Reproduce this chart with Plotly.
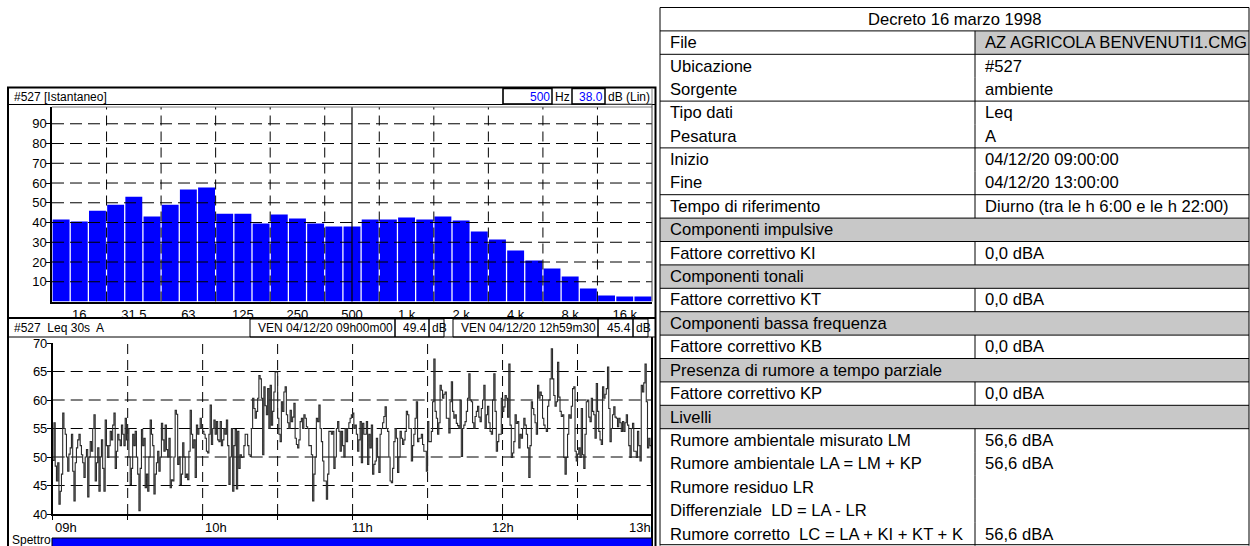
import plotly.graph_objects as go
import pandas as pd

W, H = 1250, 546

# ---------------- data ----------------
band_names = ["12.5", "16", "20", "25", "31.5", "40", "50", "63", "80", "100", "125",
              "160", "200", "250", "315", "400", "500", "630", "800", "1k", "1.25k",
              "1.6k", "2k", "2.5k", "3.15k", "4k", "5k", "6.3k", "8k", "10k",
              "12.5k", "16k", "20k"]
band_levels_db = [41.5, 40.5, 46.0, 49.0, 53.0, 43.0, 49.0, 56.7, 57.7, 44.5, 44.5,
                  39.5, 44.0, 42.0, 39.5, 38.0, 38.0, 41.5, 41.5, 42.5, 41.5,
                  43.0, 41.0, 35.4, 31.4, 25.8, 20.8, 16.7, 12.7, 6.6,
                  3.0, 2.5, 2.5]
spectrum_tick_bands = ["16", "31.5", "63", "125", "250", "500", "1k", "2k", "4k", "8k", "16k"]
spectrum_tick_text = ["16", "31.5", "63", "125", "250", "500", "1 k", "2 k", "4 k", "8 k", "16 k"]
spectrum_y_ticks = [10, 20, 30, 40, 50, 60, 70, 80, 90]
cursor_band = "500"

leq_start = "2020-12-04 09:00:00"
leq_0900 = [49.4, 56, 48.4, 45.8, 49, 41.7, 44, 47, 57.7, 55,
            54, 50, 47.5, 50.5, 51.6, 54, 47.5, 42.3, 49, 51.6,
            53, 54, 52, 50.4, 49, 46.4, 50, 51.3, 43, 50,
            52.7, 51, 55, 57.4, 45.8, 49, 51.6, 44, 50, 53,
            48, 44, 56.5, 52, 49.9, 52, 54.5, 53, 55.6, 57.7,
            48, 51, 54, 53, 52, 55.6, 54, 52, 56.8, 53,
            55, 50, 45.2, 48, 54, 52, 54.5, 50, 47, 40.6,
            48, 54.8, 52, 53.3, 44.6, 47, 44, 50, 56.5, 54,
            52, 43.5, 47, 49, 51, 47.5, 50, 55.9, 53, 51,
            55.6, 51.3, 50, 53.3, 44.6, 46, 45.8, 50, 58.2, 57.5,
            48.7, 50, 45.2, 47, 52.5, 50, 46.4, 47, 46, 51,
            58.2, 54, 51.6, 53, 46.4, 55.6, 54, 55, 56.8, 55]
leq_1000 = [54.5, 54, 53.3, 51, 50.7, 54, 59.1, 52.2, 55, 56.5,
            54, 56.2, 53, 52.7, 56.2, 52, 53, 55, 54, 56.5,
            52, 45.2, 50, 55, 44, 52, 54.8, 44.4, 54.5, 48,
            50.4, 49.9, 50, 52, 54, 54, 52, 50.4, 50.1, 55,
            60.3, 58.5, 56.8, 58, 60.3, 64.3, 63.7, 60.3, 50.4, 62.3,
            59, 57.4, 62, 55, 62.6, 55.6, 58, 61.4, 64.9, 64.9,
            56.8, 54, 52.7, 59.7, 58, 61.4, 62.3, 57.4, 56, 55,
            58.2, 56.2, 57, 59.4, 53.3, 52.2, 51.6, 53, 56.2, 56.8,
            55, 57.4, 56.8, 55.3, 55, 52, 52, 50.4, 42.3, 47,
            50, 56.8, 56.2, 59.1, 55, 52.7, 49.3, 45.8, 45.8, 42.6,
            47, 54.5, 54.5, 54, 54.5, 48, 50, 55, 56.2, 54.5,
            51, 54.5, 52, 50, 55, 52.7, 55, 56, 56.8, 57.4]
leq_1100 = [57.7, 55, 55.6, 54, 51, 53, 56.2, 49, 55.9, 54,
            54, 56.2, 48.7, 54, 51.6, 55.6, 47, 48.7, 49.3, 53.3,
            50, 47.3, 54, 55, 56, 57.1, 58.8, 55, 54.5, 50,
            45.8, 45.5, 48, 52.7, 55, 53.3, 47.3, 50, 54.5, 53.3,
            52.2, 53, 54.5, 58, 57.4, 55, 55, 49.3, 52, 54,
            56.8, 59.7, 52.7, 53.3, 53.3, 54, 52.2, 51, 51, 47.5,
            56.2, 52.7, 52.7, 54.5, 59.7, 67.2, 58, 56.8, 54, 56,
            62.6, 61.7, 60.3, 61, 61.4, 56.8, 56.8, 54.2, 59.7, 63.2,
            58, 56.8, 57.4, 55.9, 55.5, 55, 60, 50.1, 55, 55.6,
            56.2, 58, 60.3, 64.6, 60, 59.7, 56, 55, 57.1, 58,
            58.9, 57, 56.2, 58.5, 60, 62.6, 55, 57.4, 58.9, 56,
            54.5, 54, 60, 64.6, 58, 51, 52.7, 54, 54, 60.3]
leq_1200 = [58, 58.8, 60.8, 60.3, 57, 66.3, 55.6, 49.9, 50.7, 52.7,
            57.4, 55.9, 56.2, 51.6, 54, 53.3, 55, 56.8, 55.6, 54,
            51.6, 46.4, 52, 59.7, 58.5, 57.4, 56, 54, 62.6, 60.3,
            61.4, 60.8, 56.8, 55.6, 55, 54.5, 58.9, 60, 63.7, 69,
            63.7, 60.8, 58.9, 59.7, 66.6, 60.5, 58, 57.1, 57.4, 49.9,
            47, 49.9, 54, 57.4, 56.8, 58.9, 62, 62.3, 51, 49.3,
            50.5, 51.6, 49.9, 58.5, 50.4, 48, 54, 59.7, 60, 57,
            56.2, 60.3, 58, 57.4, 53.3, 62.9, 58, 54.5, 53, 52.2,
            62.3, 60.3, 61, 62, 65.8, 58.5, 52.7, 55, 57.4, 58.8,
            57, 56.8, 55.3, 56.8, 56, 54.5, 56.2, 54.5, 56, 57.4,
            55.6, 52, 49.9, 55, 55.9, 51, 51, 49.9, 54.5, 52,
            49.3, 62.6, 61.4, 63, 66.3, 59.7, 51.6, 53.3, 52, 45.4]
time_tick_times = ["2020-12-04 09:00", "2020-12-04 10:00", "2020-12-04 11:00",
                   "2020-12-04 12:00", "2020-12-04 13:00"]
time_tick_labels = ["09h", "10h", "11h", "12h", "13h"]
leq_y_ticks = [40, 45, 50, 55, 60, 65, 70]

table_title = "Decreto 16 marzo 1998"
table_labels = ["File", "Ubicazione", "Sorgente", "Tipo dati", "Pesatura", "Inizio", "Fine",
                "Tempo di riferimento", "Componenti impulsive", "Fattore correttivo KI",
                "Componenti tonali", "Fattore correttivo KT", "Componenti bassa frequenza",
                "Fattore correttivo KB", "Presenza di rumore a tempo parziale",
                "Fattore correttivo KP", "Livelli", "Rumore ambientale misurato LM",
                "Rumore ambientale LA = LM + KP", "Rumore residuo LR",
                "Differenziale\u00a0 LD = LA - LR", "Rumore corretto\u00a0 LC = LA + KI + KT + K"]
table_values = ["AZ AGRICOLA BENVENUTI1.CMG", "#527", "ambiente", "Leq", "A",
                "04/12/20 09:00:00", "04/12/20 13:00:00", "Diurno (tra le h 6:00 e le h 22:00)",
                None, "0,0 dBA", None, "0,0 dBA", None, "0,0 dBA", None, "0,0 dBA", None,
                "56,6 dBA", "56,6 dBA", "", "", "56,6 dBA"]

# ---------------- helpers ----------------
FONT = "Liberation Sans, Arial, sans-serif"
BLUE = "#0000ff"
GRAY = "#c8c8c8"


def px(x):
    return x / W


def py(y):
    return 1 - y / H


shapes = []
annotations = []


def rect(x0, y0, x1, y1, lw=1, color="black", fill=None, layer="above"):
    shapes.append(dict(type="rect", xref="paper", yref="paper", x0=px(x0), x1=px(x1),
                       y0=py(y1), y1=py(y0), line=dict(color=color, width=lw),
                       fillcolor=fill if fill else "rgba(0,0,0,0)", layer=layer))


def hline(x0, x1, y, lw=1, color="black"):
    shapes.append(dict(type="line", xref="paper", yref="paper", x0=px(x0), x1=px(x1),
                       y0=py(y), y1=py(y), line=dict(color=color, width=lw), layer="above"))


def vline(x, y0, y1, lw=1, color="black"):
    shapes.append(dict(type="line", xref="paper", yref="paper", x0=px(x), x1=px(x),
                       y0=py(y0), y1=py(y1), line=dict(color=color, width=lw), layer="above"))


def text(x, y, s, size=12, color="black", xanchor="left", yanchor="middle"):
    annotations.append(dict(xref="paper", yref="paper", x=px(x), y=py(y), text=s,
                            showarrow=False, xanchor=xanchor, yanchor=yanchor,
                            font=dict(family=FONT, size=size, color=color)))


# ---------------- figure ----------------
leq = leq_0900 + leq_1000 + leq_1100 + leq_1200
leq_times = pd.date_range(leq_start, periods=len(leq), freq="30s")

fig = go.Figure()
fig.add_trace(go.Bar(x=band_names, y=band_levels_db, marker=dict(color=BLUE, line=dict(width=0)),
                     xaxis="x", yaxis="y", showlegend=False))
fig.add_trace(go.Scatter(x=leq_times, y=leq, mode="lines", line=dict(color="#2a2a2a", width=1.1, shape="hv"),
                         xaxis="x2", yaxis="y2", showlegend=False))

SX0, SX1, SY0, SY1 = 52, 652, 107, 301.5
TX0, TX1, TY0, TY1 = 52.7, 652.5, 343, 514

axis_font = dict(family=FONT, size=13, color="black")
fig.update_layout(
    template="none",
    width=W, height=H, margin=dict(l=0, r=0, t=0, b=0, pad=0, autoexpand=False),
    paper_bgcolor="white", plot_bgcolor="white", bargap=0.07, showlegend=False,
    xaxis=dict(domain=[px(SX0), px(SX1)], anchor="y", type="category", automargin=False,
               range=[-0.5, len(band_names) - 0.5], tickvals=spectrum_tick_bands,
               ticktext=spectrum_tick_text, ticks="", showgrid=False, showline=True,
               linecolor="black", linewidth=2, tickfont=axis_font, zeroline=False),
    yaxis=dict(domain=[py(SY1), py(SY0)], anchor="x", range=[0, 98.5], automargin=False,
               tickvals=spectrum_y_ticks, ticks="outside", ticklen=4, tickcolor="black",
               ticklabelstandoff=-3,
               showgrid=False, showline=True, linecolor="black", linewidth=1.5,
               tickfont=axis_font, zeroline=False),
    xaxis2=dict(domain=[px(TX0), px(TX1)], anchor="y2", type="date", automargin=False,
                range=[time_tick_times[0], time_tick_times[-1]],
                tickvals=list(pd.date_range(time_tick_times[0], time_tick_times[-1], freq="30min")),
                showticklabels=False, ticks="outside", ticklen=4, tickcolor="black",
                showgrid=False, showline=True, linecolor="black", linewidth=1.5, zeroline=False),
    yaxis2=dict(domain=[py(TY1), py(TY0)], anchor="x2", range=[40, 70], automargin=False,
                tickvals=leq_y_ticks, ticks="outside", ticklen=4, tickcolor="black",
                ticklabelstandoff=-3,
                showgrid=False, showline=True, linecolor="black", linewidth=1.5,
                tickfont=axis_font, zeroline=False),
)

grid_dash_h = "12px,6px"
grid_dash_v = "10px,6px"
for v in spectrum_y_ticks:
    shapes.append(dict(type="line", xref="x domain", yref="y", x0=0, x1=1, y0=v, y1=v,
                       line=dict(color="black", width=1, dash=grid_dash_h), layer="above"))
for k in range(3, len(band_names), 3):
    shapes.append(dict(type="line", xref="x", yref="y domain", x0=k - 0.5, x1=k - 0.5, y0=0, y1=1,
                       line=dict(color="black", width=1, dash=grid_dash_v), layer="above"))
ci = band_names.index(cursor_band)
shapes.append(dict(type="line", xref="x", yref="y domain", x0=ci, x1=ci, y0=0, y1=1,
                   line=dict(color="black", width=1.2), layer="above"))

for t in pd.date_range(time_tick_times[0], time_tick_times[-1], freq="30min")[1:-1]:
    shapes.append(dict(type="line", xref="x2", yref="y2 domain", x0=t, x1=t, y0=0, y1=1,
                       line=dict(color="black", width=1, dash=grid_dash_v), layer="below"))
for v in leq_y_ticks[1:-1]:
    shapes.append(dict(type="line", xref="x2 domain", yref="y2", x0=0, x1=1, y0=v, y1=v,
                       line=dict(color="black", width=1, dash=grid_dash_h), layer="below"))

label_anchor = ["left", "left", "left", "center", "right"]
label_shift = [0, 0, -3, 0, 0]
for t, lab, anc, sh in zip(time_tick_times, time_tick_labels, label_anchor, label_shift):
    annotations.append(dict(xref="x2", yref="paper", x=t, y=py(518), text=lab, showarrow=False,
                            xanchor=anc, yanchor="top", xshift=sh, font=axis_font))

# ---- left panels frames ----
PL, PR = 8, 655.5
rect(PL, 87.5, PR, 560, lw=2)
hline(PL, PR, 104.5, lw=1)
hline(SX0, SX1, 107, lw=1, color="#808080")
vline(SX1, 104.5, SY1, lw=1, color="#404040")
hline(PL, PR, 318, lw=2)
hline(PL, PR, 337, lw=1)
vline(652, 337, 560, lw=2)

text(12, 96.5, "#527 [Istantaneo]")
rect(503, 88.5, 652, 104, lw=1, color="#808080")
rect(503, 88.5, 552, 104, lw=1.5)
rect(572, 88.5, 605, 104, lw=1.5)
text(551.5, 96.5, cursor_band, color=BLUE, xanchor="right")
text(553, 96.5, "Hz")
text(604.5, 96.5, f"{band_levels_db[ci]:.1f}", color=BLUE, xanchor="right")
text(606, 96.5, "dB (Lin)")

weekday_it = ["LUN", "MAR", "MER", "GIO", "VEN", "SAB", "DOM"]


def stamp(ts):
    return f"{weekday_it[ts.weekday()]} {ts.strftime('%d/%m/%y')} {ts.strftime('%Hh%Mm%S')}"


text(12, 328, "#527\u00a0 Leq 30s\u00a0 A")
for bx0, bx1 in [(250, 395), (395, 429), (429, 444), (453, 598), (598, 633), (633, 648)]:
    rect(bx0, 319, bx1, 337, lw=1)
text(394.5, 328, stamp(leq_times[0]), xanchor="right")
text(428.5, 328, f"{leq[0]:.1f}", xanchor="right")
text(429.5, 328, "dB")
text(597.5, 328, stamp(leq_times[-1]), xanchor="right")
text(632.5, 328, f"{leq[-1]:.1f}", xanchor="right")
text(633.5, 328, "dB")

text(10, 531, "Spettro", size=12, yanchor="top")
rect(52, 538, 652, 560, lw=1, fill=BLUE)

# ---- table ----
X0, X1, XC = 660, 1249, 975
TOP, ROW = 7.5, 23.4
TFS = 16.6
n_rows = len(table_labels) + 1
no_line_above = {3, 5, 7, 19, 20, 21, 22}

text((X0 + X1) / 2, TOP + ROW / 2, table_title, size=TFS, xanchor="center")
for k, (lab, val) in enumerate(zip(table_labels, table_values), start=1):
    y0 = TOP + k * ROW
    yc = y0 + ROW / 2
    if val is None:
        rect(X0, y0, X1, y0 + ROW, lw=0, fill=GRAY, layer="below")
    else:
        if k == 1:
            rect(XC, y0, X1, y0 + ROW, lw=0, fill=GRAY, layer="below")
        vline(XC, y0, y0 + ROW)
        text(XC + 8, yc, val, size=TFS)
    text(X0 + 8, yc, lab, size=TFS)
    if k not in no_line_above:
        hline(X0, X1, y0)
hline(X0, X1, TOP)
hline(X0, X1, TOP + n_rows * ROW - 1)
vline(X0, TOP, TOP + n_rows * ROW)
vline(X1, TOP, TOP + n_rows * ROW)

fig.update_layout(shapes=shapes, annotations=annotations)

pin_js = (
    "document.documentElement.style.margin='0';"
    "document.body.style.margin='0';document.body.style.padding='0';"
    "var g=document.querySelector('.plotly-graph-div');"
    "if(g){g.style.position='fixed';g.style.left='0px';g.style.top='0px';}"
)
fig.write_html("out.html", config={"displayModeBar": False}, post_script=pin_js)
